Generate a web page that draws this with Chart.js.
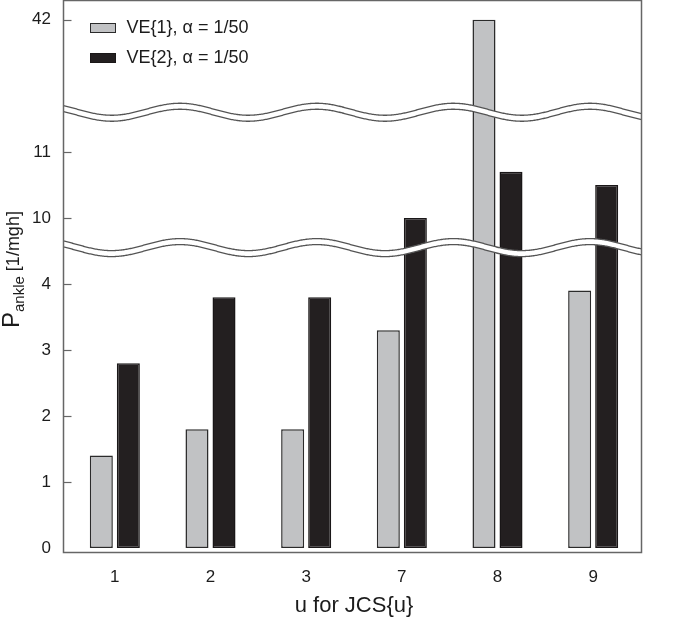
<!DOCTYPE html>
<html>
<head>
<meta charset="utf-8">
<title>P ankle by JCS</title>
<script src="https://cdn.jsdelivr.net/npm/chart.js@4.4.1/dist/chart.umd.min.js"></script>
<style>
  html, body { margin: 0; padding: 0; background: #fff; }
  #wrap { width: 675px; height: 619px; }
</style>
</head>
<body>
<div id="wrap"><canvas id="pankleChart" width="675" height="619"></canvas></div>
<script>
const categories = ['1', '2', '3', '7', '8', '9'];
const ve1Values = [1.4, 1.8, 1.8, 3.3, 42, 3.9];
const ve2Values = [2.8, 3.8, 3.8, 10.0, 10.7, 10.5];
const seriesLabels = ['VE{1}, α = 1/50', 'VE{2}, α = 1/50'];
const yTickLabels = [0, 1, 2, 3, 4, 10, 11, 42];

// broken axis: every kept range of P is shifted down so the ranges sit one after another
const axisPieces = [
  { to: 4.5, shift: 0 },
  { to: 11.5, shift: 5 },
  { to: Infinity, shift: 34 }
];
// where the wavy break marks go, in shifted axis units
const breakMarks = [4.55, 6.6];

const FONT = "'Liberation Sans', Arial, Helvetica, sans-serif";
const textColor = '#1c1c1c';
const frameColor = '#666';

function toAxis(v) {
  const piece = axisPieces.find(p => v <= p.to);
  return v - piece.shift;
}

const ctx = document.getElementById('pankleChart').getContext('2d');

const brokenAxisPlugin = {
  id: 'brokenAxis',
  afterDatasetsDraw(chart) {
    const { ctx, chartArea: a, scales: { y } } = chart;
    const left = a.left - 3.5;
    const right = a.right + 0.5;
    const period = 136.7, amp = 6, gap = 6;
    const peakX = a.left + 113;
    breakMarks.forEach(m => {
      const yc = y.getPixelForValue(m);
      const wave = x => yc - gap / 2 - amp * Math.cos(2 * Math.PI * (x - peakX) / period);

      ctx.save();
      ctx.beginPath();
      ctx.moveTo(left, wave(left));
      for (let x = left; x <= right; x++) ctx.lineTo(x, wave(x));
      for (let x = right; x >= left; x--) ctx.lineTo(x, wave(x) + gap);
      ctx.closePath();
      ctx.fillStyle = '#fff';
      ctx.fill();

      ctx.strokeStyle = '#555';
      ctx.lineWidth = 1.3;
      [0, gap].forEach(off => {
        ctx.beginPath();
        ctx.moveTo(left, wave(left) + off);
        for (let x = left; x <= right; x++) ctx.lineTo(x, wave(x) + off);
        ctx.stroke();
      });
      ctx.restore();
    });
  },
  afterDraw(chart) {
    const { ctx, chartArea: a, scales: { y } } = chart;
    const left = a.left - 3.5;

    ctx.save();
    // frame
    ctx.strokeStyle = frameColor;
    ctx.lineWidth = 1.5;
    ctx.strokeRect(left, a.top + 0.5, a.right + 0.5 - left, a.bottom - a.top);

    // inner tick marks
    ctx.lineWidth = 1.2;
    y.ticks.forEach(t => {
      if (t.value === 0) return;
      const py = Math.round(y.getPixelForValue(t.value)) + 0.5;
      ctx.beginPath();
      ctx.moveTo(left, py);
      ctx.lineTo(left + 8, py);
      ctx.stroke();
    });

    // legend inside the plot
    ctx.font = '18px ' + FONT;
    ctx.textBaseline = 'middle';
    ctx.textAlign = 'left';
    chart.data.datasets.forEach((ds, i) => {
      const bx = a.left + 23.5;
      const by = a.top + 23.5 + i * 30;
      ctx.fillStyle = ds.backgroundColor;
      ctx.fillRect(bx, by, 25, 9);
      ctx.strokeStyle = ds.borderColor;
      ctx.lineWidth = 1;
      ctx.strokeRect(bx, by, 25, 9);
      ctx.fillStyle = textColor;
      ctx.fillText(ds.label, bx + 36, by + 5);
    });

    // y title with subscript
    ctx.translate(19, 328);
    ctx.rotate(-Math.PI / 2);
    ctx.textBaseline = 'alphabetic';
    ctx.fillStyle = textColor;
    ctx.font = '24px ' + FONT;
    ctx.fillText('P', 0, 0);
    let cx = ctx.measureText('P').width;
    ctx.font = '15px ' + FONT;
    ctx.fillText('ankle', cx, 5);
    cx += ctx.measureText('ankle').width;
    ctx.font = '18px ' + FONT;
    ctx.fillText(' [1/mgh]', cx, 0);
    ctx.restore();
  }
};

const chart = new Chart(ctx, {
  type: 'bar',
  data: {
    labels: categories,
    datasets: [{
      label: seriesLabels[0],
      data: ve1Values.map(toAxis),
      backgroundColor: '#c1c2c4',
      borderColor: '#2b2b2b',
      borderWidth: 1.5,
      borderSkipped: false,
      categoryPercentage: 0.565,
      barPercentage: 0.852
    }, {
      label: seriesLabels[1],
      data: ve2Values.map(toAxis),
      backgroundColor: '#231f20',
      borderColor: '#1a1718',
      borderWidth: 1.5,
      borderSkipped: false,
      categoryPercentage: 0.565,
      barPercentage: 0.852
    }]
  },
  options: {
    responsive: false,
    devicePixelRatio: 1,
    animation: false,
    layout: {
      padding: { left: 0, right: 34, top: 0, bottom: 0 }
    },
    plugins: {
      legend: { display: false },
      tooltip: {
        callbacks: {
          label: item => {
            const raw = item.datasetIndex === 0 ? ve1Values : ve2Values;
            return item.dataset.label + ': ' + raw[item.dataIndex];
          }
        }
      }
    },
    scales: {
      x: {
        afterFit(scale) {
          scale.height = 67;
          scale.paddingLeft = 0;
          scale.paddingRight = 0;
        },
        grid: { display: false, drawTicks: false },
        border: { display: false },
        ticks: {
          font: { family: FONT, size: 17 },
          color: textColor,
          padding: 15
        },
        title: {
          display: true,
          text: 'u for JCS{u}',
          font: { family: FONT, size: 22 },
          color: textColor,
          padding: 0
        }
      },
      y: {
        min: -0.06,
        max: 8.3,
        afterFit(scale) {
          scale.width = 67;
          scale.paddingTop = 0;
          scale.paddingBottom = 0;
        },
        afterBuildTicks(scale) {
          scale.ticks = yTickLabels.map(v => ({ value: toAxis(v) }));
        },
        grid: { display: false, drawTicks: false },
        border: { display: false },
        ticks: {
          autoSkip: false,
          callback: (value, index) => String(yTickLabels[index]),
          font: { family: FONT, size: 17 },
          color: textColor,
          padding: 16
        }
      }
    }
  },
  plugins: [brokenAxisPlugin]
});
</script>
</body>
</html>
